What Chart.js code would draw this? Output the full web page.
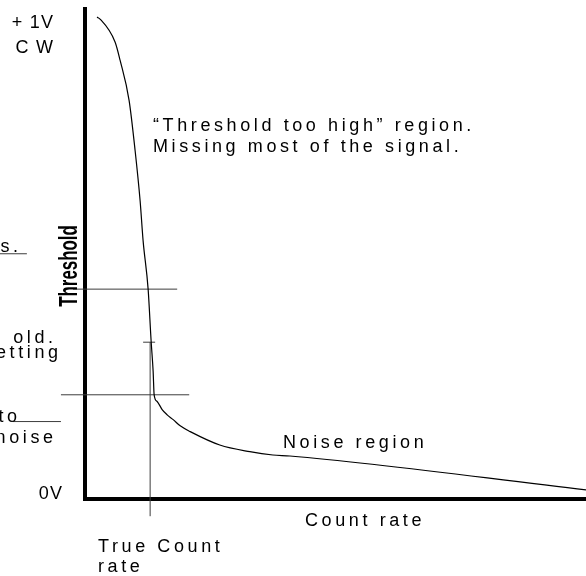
<!DOCTYPE html>
<html>
<head>
<meta charset="utf-8">
<script src="https://cdn.jsdelivr.net/npm/chart.js@4/dist/chart.umd.min.js"></script>
<style>
  html, body { margin: 0; padding: 0; background: #fff; }
  #wrap { width: 586px; height: 576px; position: relative; }
</style>
</head>
<body>
<div id="wrap"><canvas id="chart"></canvas></div>
<script>
// ── Data (count rate in arbitrary units, threshold in volts) ────────────────
const countRate = [2.4, 3.0, 6.0, 7.0, 8.8, 10.0, 11.0, 11.6, 12.6, 13.2, 13.6, 13.8, 14.4, 15.4, 16.4, 17.6, 19.0, 21.0, 26.9, 32.9, 37.5, 40.9, 100]
const threshold = [1.008, 1.004, 0.956, 0.918, 0.834, 0.729, 0.624, 0.540, 0.439, 0.330, 0.267, 0.218, 0.204, 0.187, 0.176, 0.166, 0.153, 0.141, 0.113, 0.099, 0.092, 0.090, 0.019]

// threshold settings marked on the curve
const upperLevel  = 0.439
const upperSpan   = [-2.4, 18.4]
const lowerLevel  = 0.218
const lowerSpan   = [-4.8, 20.8]
const trueRate    = 13.0
const trueSpan    = [-0.036, 0.328]
const tickSpan    = [11.6, 14.0]
// underlines under the cut-off notes on the left
const noteLines   = [
  { y: 0.513, x: [-17.0, -11.6] },
  { y: 0.162, x: [-14.4, -4.8] },
]

const yTop = 1.025

// ── Helpers ─────────────────────────────────────────────────────────────────
const hLine = (y, span) => [{ x: span[0], y }, { x: span[1], y }]
const thin = (data) => ({
  data, borderColor: '#3c3c3c', borderWidth: 1, pointRadius: 0,
  fill: false, clip: false, tension: 0,
})

const curve = countRate.map((x, i) => ({ x, y: threshold[i] }))

// ── Text labels drawn on top ────────────────────────────────────────────────
const FONT = '"Liberation Sans", Arial, sans-serif'

const labelsPlugin = {
  id: 'labels',
  afterDraw(chart) {
    const { ctx } = chart
    let ls = 3.6
    ctx.save()
    ctx.fillStyle = '#000'
    ctx.textBaseline = 'alphabetic'
    ctx.font = '18px ' + FONT

    const spacing = v => { ls = v; ctx.letterSpacing = v + 'px' }
    const left  = (t, x, y) => { ctx.textAlign = 'left'; ctx.fillText(t, x, y) }
    const right = (t, x, y) => {
      ctx.textAlign = 'left'
      const w = ctx.measureText(t).width - ls
      ctx.fillText(t, x - w, y)
    }

    // voltage ends of the axis
    spacing(1.2)
    right('+ 1V', 53, 28)
    right('C W', 53, 53)
    right('0V', 62, 499)

    spacing(3.6)
    left('\u201CThreshold too high\u201D region.', 153, 131)
    left('Missing most of the signal.', 153, 152)
    left('Noise region', 283, 448)
    left('Count rate', 305, 526)
    left('True Count', 98, 552)
    left('rate', 98, 572)

    // notes running off the left edge
    right('s.', 18, 252)
    right('old.', 53, 343)
    right('etting', 58, 358)
    right('to', 17, 422)
    right('noise', 53, 443)

    // rotated axis title, bold and condensed
    spacing(0)
    ctx.font = 'bold 26px ' + FONT
    ctx.translate(77, 266)
    ctx.rotate(-Math.PI / 2)
    ctx.scale(0.65, 1)
    ctx.textAlign = 'center'
    ctx.fillText('Threshold', 0, 0)
    ctx.restore()
  },
}

// ── Chart ───────────────────────────────────────────────────────────────────
new Chart(document.getElementById('chart'), {
  type: 'line',
  data: {
    datasets: [
      {
        data: curve, borderColor: '#000', borderWidth: 1.2, pointRadius: 0,
        fill: false, clip: false, cubicInterpolationMode: 'monotone',
      },
      thin(hLine(upperLevel, upperSpan)),
      thin(hLine(lowerLevel, lowerSpan)),
      thin(hLine(trueSpan[1], tickSpan)),
      thin([{ x: trueRate, y: trueSpan[0] }, { x: trueRate, y: trueSpan[1] }]),
      ...noteLines.map(n => thin(hLine(n.y, n.x))),
    ],
  },
  options: {
    responsive: true,
    maintainAspectRatio: false,
    animation: false,
    layout: { padding: { left: 85, top: 9, right: 0, bottom: 77 } },
    plugins: { legend: { display: false }, tooltip: { enabled: false } },
    scales: {
      x: {
        type: 'linear', min: 0, max: 100,
        grid: { display: false, drawTicks: false },
        ticks: { display: false },
        border: { display: true, width: 4, color: '#000' },
      },
      y: {
        type: 'linear', min: 0, max: yTop,
        grid: { display: false, drawTicks: false },
        ticks: { display: false },
        border: { display: true, width: 4, color: '#000' },
      },
    },
  },
  plugins: [labelsPlugin],
})
</script>
</body>
</html>
